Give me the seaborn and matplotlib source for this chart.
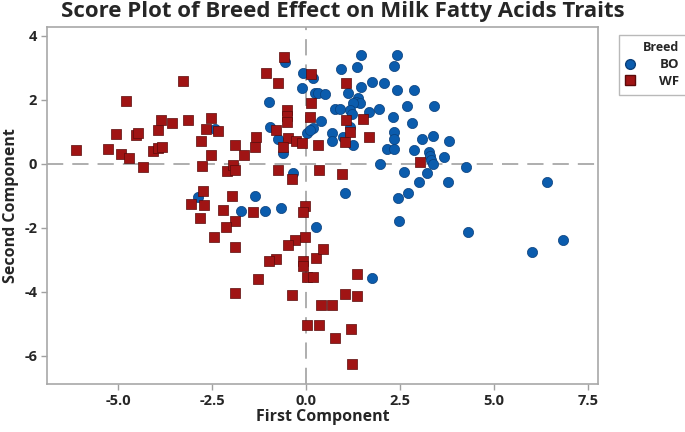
import numpy as np
import pandas as pd
import matplotlib
matplotlib.use("Agg")
import matplotlib.pyplot as plt
import seaborn as sns

bo_x = [-0.56, -0.07, 0.20, -0.10, 0.24, 0.33, 0.51, -0.98, -0.96, -0.74, -0.60, 0.02, 0.18, 0.10,
        -0.34, -2.86, -1.36, -2.42, 1.46, 2.41, 1.37, 2.34, 0.93, 1.76, 2.07, 1.46, 2.43, 2.87,
        1.11, 1.39, 1.32, 1.44, 1.26, 0.77, 0.90, 1.17, 1.68, 1.94, 2.68, 3.40, 1.22, 0.40, 2.32,
        2.81, 1.17, 0.68, 2.34, 0.98, 0.68, 2.35, 1.26, 3.37, 3.10, 3.81, 2.15, 2.34, 2.87, 3.28,
        3.30, 3.34, 3.39, 3.67, 1.97, 4.25, 2.61, 3.23, 3.01, 3.78, 1.04, 2.72, 2.45, 6.40, 2.47,
        4.31, 6.02, 6.84, 1.75, 0.27, -1.73, -1.09, -0.66]
bo_y = [3.20, 2.83, 2.68, 2.36, 2.21, 2.21, 2.17, 1.93, 1.15, 0.77, 0.35, 0.98, 1.11, 1.05,
        -0.27, -1.02, -0.99, 1.08, 3.39, 3.42, 3.02, 3.07, 2.97, 2.55, 2.52, 2.40, 2.31, 2.31,
        2.21, 2.05, 1.95, 1.90, 1.90, 1.71, 1.71, 1.69, 1.63, 1.71, 1.81, 1.81, 1.56, 1.35, 1.48,
        1.27, 1.15, 0.96, 1.01, 0.83, 0.73, 0.77, 0.59, 0.88, 0.77, 0.73, 0.46, 0.46, 0.44, 0.38,
        0.25, 0.13, 0.00, 0.21, 0.00, -0.10, -0.24, -0.27, -0.58, -0.58, -0.92, -0.92, -1.07, -0.55, -1.78,
        -2.14, -2.76, -2.38, -3.58, -1.96, -1.47, -1.47, -1.37]

wf_x = [-6.12, -5.26, -5.05, -4.79, -4.93, -4.70, -4.52, -4.48, -4.33, -4.06, -3.95, -3.84, -3.93,
        -3.87, -3.56, -3.26, -3.13, -2.79, -2.76, -2.67, -2.53, -2.53, -2.35, -2.11, -1.93, -1.89,
        -1.89, -1.66, -1.36, -1.33, -1.06, -0.74, -0.59, -0.50, -0.51, -0.50, -0.80, -0.47, -0.62,
        -0.27, -0.10, -0.74, -0.38, 0.13, 0.13, 0.11, 0.33, 0.36, 1.06, 1.06, 1.52, 1.17, 1.68,
        1.04, 0.97, 3.03, -2.73, -1.96, -3.07, -2.70, -2.82, -2.20, -1.40, -1.89, -2.13, -2.44,
        -1.89, -0.03, -0.07, -0.03, -0.29, -0.47, -0.80, -0.98, -0.07, -0.07, 0.28, 0.46, 0.04,
        0.20, -1.27, -1.89, -0.36, 0.40, 0.70, 0.02, 0.35, 1.37, 1.04, 1.35, 1.20, 0.77, 1.23]
wf_y = [0.44, 0.48, 0.94, 1.96, 0.31, 0.18, 0.90, 0.96, -0.10, 0.41, 0.50, 0.52, 1.06,
        1.38, 1.29, 2.59, 1.38, 0.72, -0.06, 1.10, 1.42, 0.28, 1.03, -0.22, -0.03, -0.19,
        0.59, 0.28, 0.52, 0.83, 2.83, 2.54, 3.33, 1.69, 1.50, 1.32, 1.06, 0.80, 0.52,
        0.73, 0.65, -0.19, -0.47, 2.81, 1.90, 1.48, 0.59, -0.19, 2.52, 1.38, 1.40, 1.00, 0.83,
        0.67, -0.31, 0.07, -0.85, -0.99, -1.25, -1.28, -1.68, -1.44, -1.49, -1.80, -1.96, -2.27,
        -2.61, -1.33, -1.51, -2.30, -2.38, -2.53, -2.97, -3.05, -3.02, -3.19, -2.93, -2.66, -3.52,
        -3.55, -3.59, -4.02, -4.09, -4.41, -4.41, -5.03, -5.03, -3.44, -4.06, -4.13, -5.16, -5.43, -6.25]

breeds = ["BO", "WF"]
x_ticks = [-5.0, -2.5, 0.0, 2.5, 5.0, 7.5]
x_tick_labels = ["-5.0", "-2.5", "0.0", "2.5", "5.0", "7.5"]
y_ticks = [4, 2, 0, -2, -4, -6]
y_tick_labels = ["4", "2", "0", "-2", "-4", "-6"]

df = pd.DataFrame({
    "First Component": bo_x + wf_x,
    "Second Component": bo_y + wf_y,
    "Breed": [breeds[0]] * len(bo_x) + [breeds[1]] * len(wf_x),
})

sns.set_style("white")
plt.rcParams['font.family'] = ['Open Sans', 'DejaVu Sans']

fig = plt.figure(figsize=(6.85, 4.32), dpi=100)
ax = fig.add_axes([47/685, 1 - 384/432, (598 - 47)/685, (384 - 27)/432])

palette = {"BO": "#0b5cad", "WF": "#a01414"}
edges = {"BO": "#0a3f7a", "WF": "#5a0a0a"}
markers = {"BO": "o", "WF": "s"}
ax.axvline(0, color="#a8a8a8", lw=1.3, ls=(0, (9, 5)), zorder=0)
ax.axhline(0, color="#a8a8a8", lw=1.3, ls=(0, (9, 5)), zorder=0)

for b in breeds:
    sub = df[df["Breed"] == b]
    sns.scatterplot(data=sub, x="First Component", y="Second Component",
                    color=palette[b], marker=markers[b], s=54 if b == "BO" else 58,
                    edgecolor=edges[b], linewidth=0.5,
                    ax=ax, label=b, legend=False, zorder=3)

ax.set_xlim(-6.89, 7.77)
ax.set_ylim(-6.88, 4.28)
ax.set_xticks(x_ticks)
ax.set_xticklabels(x_tick_labels)
ax.set_yticks(y_ticks)
ax.set_yticklabels(y_tick_labels)
ax.tick_params(axis="both", which="both", direction="out", length=4, width=1,
               color="#a0a0a0", labelsize=10.5, pad=3, bottom=True, left=True)
for lbl in ax.get_xticklabels() + ax.get_yticklabels():
    lbl.set_fontweight("bold")
for sp in ax.spines.values():
    sp.set_color("#a8a8a8")
    sp.set_linewidth(1.2)

ax.set_xlabel("First Component", fontsize=11.5, fontweight="bold", labelpad=1)
ax.set_ylabel("Second Component", fontsize=11.5, fontweight="bold", labelpad=4)
fig.suptitle("Score Plot of Breed Effect on Milk Fatty Acids Traits", x=0.5, y=0.998,
             fontsize=16, fontweight="bold", va="top")

handles = [
    plt.Line2D([], [], marker="o", ls="", color=palette["BO"], markeredgecolor=edges["BO"], markersize=7),
    plt.Line2D([], [], marker="s", ls="", color=palette["WF"], markeredgecolor=edges["WF"], markersize=7),
]
leg = fig.legend(handles, breeds, title="Breed", loc="upper left",
                 bbox_to_anchor=(612/685, 1 - 28/432), frameon=True, fancybox=False,
                 fontsize=9.5, title_fontsize=9, handletextpad=1.8, borderpad=0.5,
                 labelspacing=0.3, handlelength=0.8, alignment="right")
leg.get_frame().set_edgecolor("#a8a8a8")
leg.get_frame().set_linewidth(1.0)
for t in leg.get_texts():
    t.set_fontweight("bold")
leg.get_title().set_fontweight("bold")

fig.savefig("out.png", dpi=100)
